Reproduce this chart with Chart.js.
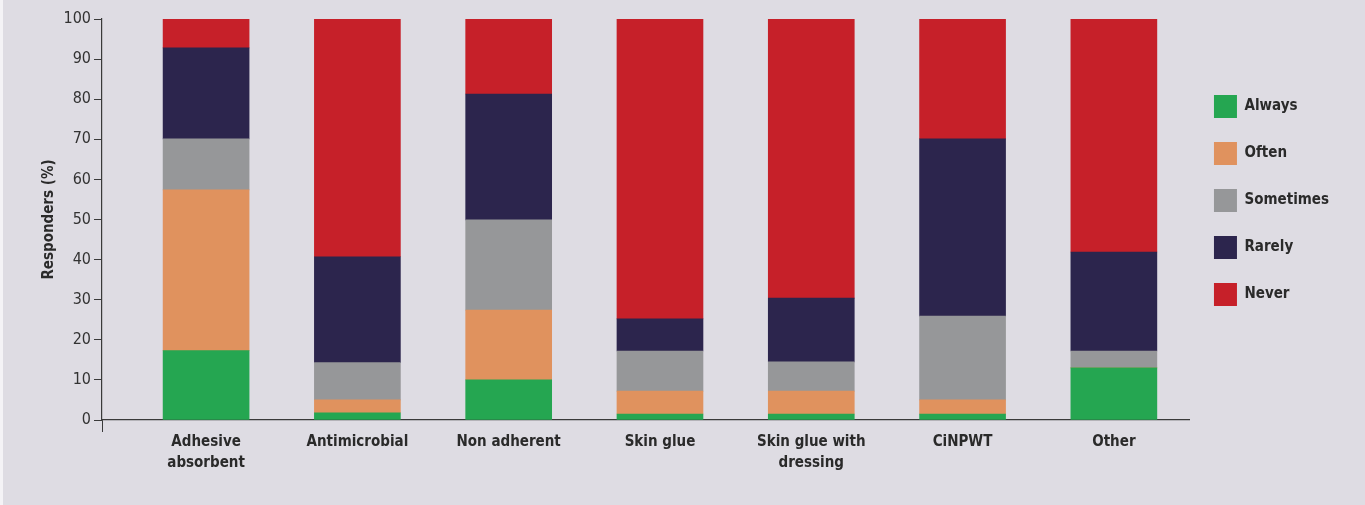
<!DOCTYPE html>
<html>
<head>
<meta charset="utf-8">
<script src="https://cdn.jsdelivr.net/npm/chart.js@4/dist/chart.umd.min.js"></script>
<style>
  html, body { margin: 0; padding: 0; background: #f4f3f6; }
  #wrap { position: absolute; left: 3px; top: 0; width: 1362px; height: 505px; background: #dedce3; }
</style>
</head>
<body>
<div id="wrap"><canvas id="chart"></canvas></div>
<script>
// Categories and series (% of responders)
const CATEGORIES = [
  ['Adhesive', 'absorbent'],
  'Antimicrobial',
  'Non adherent',
  'Skin glue',
  ['Skin glue with', 'dressing'],
  'CiNPWT',
  'Other',
];
const ALWAYS    = [17.3, 1.8, 10.0, 1.5, 1.5, 1.5, 13.0];
const OFTEN     = [40.1, 3.2, 17.4, 5.7, 5.7, 3.5, 0];
const SOMETIMES = [12.7, 9.3, 22.5, 10.0, 7.3, 20.9, 4.2];
const RARELY    = [22.7, 26.4, 31.4, 8.0, 15.9, 44.2, 24.7];
const NEVER     = [7.2, 59.3, 18.7, 74.8, 69.6, 29.9, 58.1];
const Y_TICKS   = [0, 10, 20, 30, 40, 50, 60, 70, 80, 90, 100];

const X_MIN = -0.688;
const X_MAX = 6.503;

const FONT = "'Liberation Sans Narrow', 'DejaVu Sans Condensed', 'Arial Narrow', sans-serif";
const AXIS = '#3a3a3a';

const SERIES = [
  { label: 'Always',    data: ALWAYS,    color: '#25a651' },
  { label: 'Often',     data: OFTEN,     color: '#e0925e' },
  { label: 'Sometimes', data: SOMETIMES, color: '#969799' },
  { label: 'Rarely',    data: RARELY,    color: '#2c254d' },
  { label: 'Never',     data: NEVER,     color: '#c62029' },
];

new Chart(document.getElementById('chart'), {
  type: 'bar',
  data: {
    datasets: SERIES.map(s => ({
      label: s.label,
      data: s.data.map((v, i) => ({ x: i, y: v })),
      backgroundColor: s.color,
      borderWidth: 0,
      barThickness: 86,
    })),
  },
  options: {
    responsive: true,
    maintainAspectRatio: false,
    animation: false,
    layout: { padding: { top: 19, right: 26, bottom: 0, left: 0 } },
    plugins: {
      tooltip: { enabled: false },
      legend: {
        position: 'right',
        align: 'start',
        title: { display: true, text: '', font: { size: 10 }, padding: { top: 40, bottom: 0 } },
        labels: {
          boxWidth: 23,
          boxHeight: 23,
          padding: 24,
          color: '#2a2a2a',
          font: { family: FONT, size: 15, weight: 'bold' },
        },
      },
    },
    scales: {
      x: {
        type: 'linear',
        stacked: true,
        offset: false,
        min: X_MIN,
        max: X_MAX,
        afterBuildTicks: s => { s.ticks = [X_MIN, ...CATEGORIES.map((_, i) => i)].map(v => ({ value: v })); },
        afterFit: s => { s.height = 85; },
        grid: {
          offset: false,
          drawOnChartArea: false,
          tickLength: 12,
          color: c => (c.tick && c.tick.value === X_MIN ? AXIS : 'rgba(0,0,0,0)'),
        },
        border: { color: AXIS, width: 1.2 },
        ticks: {
          padding: 0,
          maxRotation: 0,
          autoSkip: false,
          color: '#2a2a2a',
          font: { family: FONT, size: 15, weight: 'bold', lineHeight: 1.4 },
          callback: v => (Number.isInteger(v) ? CATEGORIES[v] : ''),
        },
      },
      y: {
        stacked: true,
        min: 0,
        max: 100,
        afterBuildTicks: s => { s.ticks = Y_TICKS.map(v => ({ value: v })); },
        afterFit: s => { s.width = 99; },
        grid: { drawOnChartArea: false, tickLength: 8, color: AXIS },
        border: { color: AXIS, width: 1.2 },
        ticks: {
          padding: 3,
          color: '#333',
          font: { family: FONT, size: 16, lineHeight: 1 },
        },
        title: {
          display: true,
          text: 'Responders (%)',
          color: '#2a2a2a',
          font: { family: FONT, size: 15, weight: 'bold', lineHeight: 1.2 },
          padding: { top: 37, bottom: 0 },
        },
      },
    },
  },
});
</script>
</body>
</html>
